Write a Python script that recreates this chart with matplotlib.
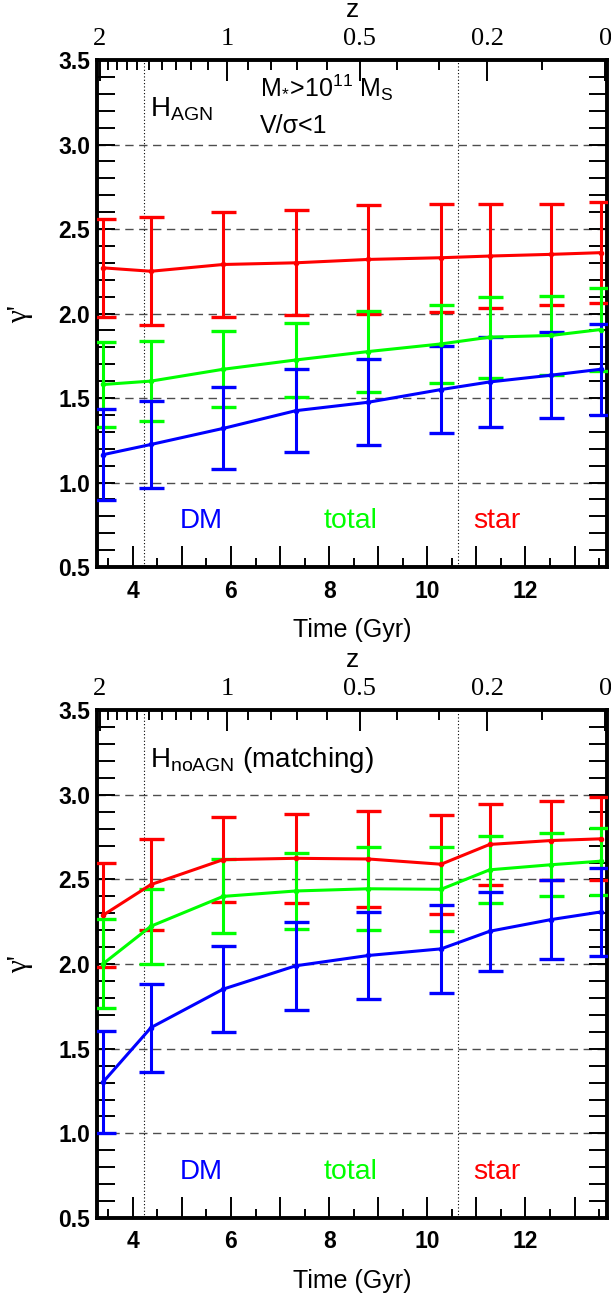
import numpy as np
import matplotlib
matplotlib.use('Agg')
import matplotlib.pyplot as plt
from matplotlib.ticker import MultipleLocator, FuncFormatter

plt.rcParams['font.family'] = ['Liberation Sans', 'DejaVu Sans']
plt.rcParams['mathtext.fontset'] = 'custom'
plt.rcParams['mathtext.rm'] = 'Liberation Sans'
plt.rcParams['mathtext.it'] = 'Liberation Sans:italic'
plt.rcParams['mathtext.bf'] = 'Liberation Sans:bold'

### data
time_gyr = [3.40, 4.37, 5.84, 7.32, 8.80, 10.28, 11.27, 12.52, 13.53]

# H_AGN, M*>1e11, V/sigma<1
agn_star = [2.27, 2.25, 2.29, 2.30, 2.32, 2.33, 2.34, 2.35, 2.36]
agn_star_err = [0.29, 0.32, 0.31, 0.31, 0.32, 0.32, 0.31, 0.30, 0.30]
agn_total = [1.58, 1.60, 1.67, 1.725, 1.775, 1.82, 1.86, 1.87, 1.905]
agn_total_err = [0.25, 0.235, 0.225, 0.22, 0.237, 0.232, 0.24, 0.232, 0.245]
agn_dm = [1.165, 1.225, 1.32, 1.425, 1.475, 1.55, 1.595, 1.635, 1.67]
agn_dm_err = [0.267, 0.255, 0.243, 0.247, 0.254, 0.255, 0.265, 0.254, 0.27]

# H_noAGN (matching)
noagn_star = [2.29, 2.47, 2.617, 2.625, 2.621, 2.59, 2.707, 2.73, 2.74]
noagn_star_err = [0.305, 0.268, 0.253, 0.263, 0.283, 0.293, 0.24, 0.233, 0.245]
noagn_total = [2.003, 2.224, 2.40, 2.432, 2.445, 2.442, 2.557, 2.587, 2.608]
noagn_total_err = [0.262, 0.222, 0.218, 0.223, 0.244, 0.249, 0.197, 0.187, 0.197]
noagn_dm = [1.305, 1.625, 1.852, 1.99, 2.051, 2.09, 2.194, 2.263, 2.308]
noagn_dm_err = [0.30, 0.26, 0.255, 0.26, 0.259, 0.259, 0.232, 0.233, 0.258]

# redshift axis labels and the two dotted reference times
z_major = [2, 1, 0.5, 0.2, 0]
z_major_labels = ['2', '1', '0.5', '0.2', '0']
z_minor = [1.9, 1.8, 1.7, 1.6, 1.5, 1.4, 1.3, 1.2, 1.1,
           0.9, 0.8, 0.7, 0.6, 0.4, 0.3, 0.1]
vlines_gyr = [4.23, 10.62]
gridlines_y = [1.0, 1.5, 2.0, 2.5, 3.0]

RED = '#ff0000'
GREEN = '#00ff00'
BLUE = '#0000ff'
XLIM = (3.276, 13.67)
YLIM = (0.5, 3.5)


def cosmic_time(z):
    ### age of the universe (Gyr) at redshift z, flat LCDM
    return 10.75*np.arcsinh(np.sqrt(0.728/0.272)*(1.+np.asarray(z))**-1.5)


def draw_panel(ax, star, star_err, total, total_err, dm, dm_err):
    ax.set_xlim(XLIM)
    ax.set_ylim(YLIM)
    # reference lines
    for yv in gridlines_y:
        ax.axhline(yv, color='0.3', lw=1.0, dashes=(6, 4), zorder=1)
    for xv in vlines_gyr:
        ax.axvline(xv, color='black', lw=0.8, ls=(0, (1, 2)), zorder=1)
    # the three profiles
    for vals, errs, col in [(star, star_err, RED), (total, total_err, GREEN),
                            (dm, dm_err, BLUE)]:
        ax.errorbar(time_gyr, vals, yerr=errs, color=col, lw=2.2,
                    elinewidth=2.2, capsize=9, capthick=2.4,
                    marker='o', ms=3, zorder=3)
    # spines and ticks
    for sp in ax.spines.values():
        sp.set_linewidth(2.8)
    ax.yaxis.set_major_locator(MultipleLocator(0.5))
    ax.yaxis.set_minor_locator(MultipleLocator(0.1))
    ax.yaxis.set_major_formatter(FuncFormatter(lambda v, p: '{:.1f}'.format(v)))
    ax.xaxis.set_major_locator(MultipleLocator(1))
    ax.xaxis.set_minor_locator(MultipleLocator(0.5))
    ax.xaxis.set_major_formatter(FuncFormatter(
        lambda v, p: '{:d}'.format(int(round(v))) if int(round(v)) % 2 == 0 else ''))
    ax.tick_params(axis='y', which='both', direction='in', left=True, right=True,
                   length=13, width=1.4)
    ax.tick_params(axis='y', which='major', pad=5, labelsize=16.5)
    ax.tick_params(axis='x', which='major', direction='in', top=False,
                   length=15, width=1.4, pad=9, labelsize=16.5)
    ax.tick_params(axis='x', which='minor', direction='in', top=False,
                   length=6.5, width=1.4)
    for lab in ax.get_xticklabels() + ax.get_yticklabels():
        lab.set_fontweight('bold')
    # redshift axis on top
    sec = ax.secondary_xaxis('top')
    sec.set_xticks(cosmic_time(z_major), z_major_labels)
    sec.set_xticks(cosmic_time(z_minor), minor=True)
    sec.tick_params(which='major', direction='in', length=15, width=1.4, pad=7)
    sec.tick_params(which='minor', direction='in', length=7, width=1.4)
    sec.spines['top'].set_visible(False)
    for lab in sec.get_xticklabels():
        lab.set_fontfamily(['Liberation Serif', 'DejaVu Serif'])
        lab.set_fontsize(19)
    # axis titles
    ax.text(0.5, 1.099, 'z', transform=ax.transAxes, ha='center', va='center',
            fontsize=19)
    ax.text(0.5, -0.124, 'Time (Gyr)', transform=ax.transAxes, ha='center',
            va='center', fontsize=18)
    ax.text(-0.152, 0.5, "γ'", transform=ax.transAxes, ha='center', va='center',
            rotation=90, fontsize=21, family=['Liberation Serif', 'DejaVu Serif'])
    # component labels
    ax.text(4.95, 0.732, 'DM', color=BLUE, fontsize=20, va='baseline')
    ax.text(7.88, 0.732, 'total', color=GREEN, fontsize=20.5, va='baseline')
    ax.text(10.93, 0.732, 'star', color=RED, fontsize=20.5, va='baseline')


fig = plt.figure(figsize=(6.11, 12.96), dpi=100)
ax1 = fig.add_axes([0.1592, 0.5625, 0.835, 0.3912])
ax2 = fig.add_axes([0.1592, 0.0602, 0.835, 0.3918])

draw_panel(ax1, agn_star, agn_star_err, agn_total, agn_total_err, agn_dm, agn_dm_err)
ax1.text(4.35, 3.163, r'$\mathrm{H_{AGN}}$', fontsize=20, va='baseline')
ax1.text(6.59, 3.281, r'$\mathrm{M_{*}\!>\!10^{11}\ M_{S}}$', fontsize=18, va='baseline')
ax1.text(6.59, 3.069, 'V/σ<1', fontsize=18, va='baseline')

draw_panel(ax2, noagn_star, noagn_star_err, noagn_total, noagn_total_err,
           noagn_dm, noagn_dm_err)
ax2.text(4.35, 3.163, r'$\mathrm{H_{noAGN}}$ (matching)', fontsize=20, va='baseline')

fig.savefig('out.png', dpi=100)
